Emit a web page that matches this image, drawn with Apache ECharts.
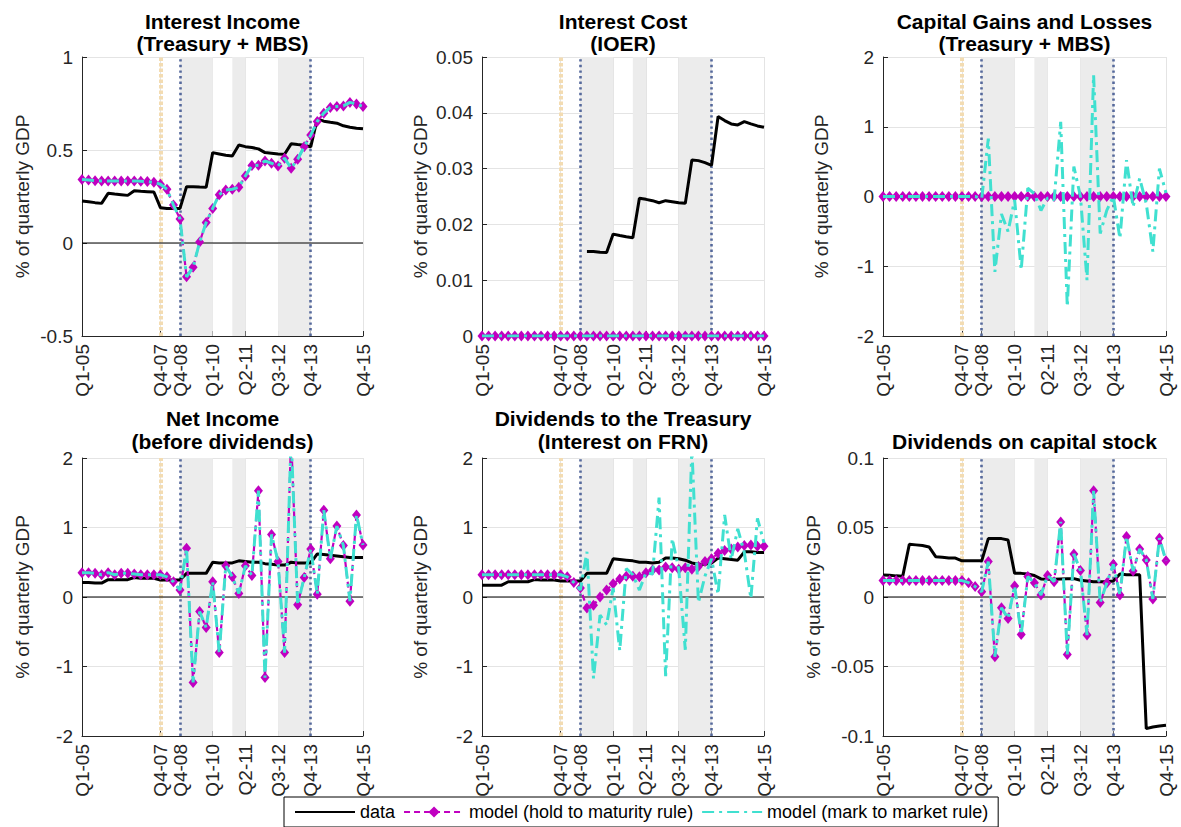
<!DOCTYPE html>
<html>
<head>
<meta charset="utf-8">
<script src="https://cdn.jsdelivr.net/npm/echarts@6/dist/echarts.min.js"></script>
<style>
  html, body { margin: 0; padding: 0; background: #fff; }
  #chart { width: 1181px; height: 827px; }
</style>
</head>
<body>
<div id="chart"></div>
<script>
// Quarter index: 0 = Q1-05 ... 43 = Q4-15
const tickPos = [0, 12, 15, 20, 25, 30, 35, 43];
const tickLabels = ['Q1-05', 'Q4-07', 'Q4-08', 'Q1-10', 'Q2-11', 'Q3-12', 'Q4-13', 'Q4-15'];

// Shaded purchase programmes and event markers (quarter index)
const qeBands = [[15, 20], [23, 25], [30, 35]];
const recessionStart = 12;
const qeMarks = [15, 35];

const seriesNames = ['data', 'model (hold to maturity rule)', 'model (mark to market rule)'];

// Interest Income (Treasury + MBS)
const p1Data = [0.226,0.222,0.217,0.213,0.267,0.263,0.260,0.256,0.281,0.278,0.276,0.274,0.190,0.186,0.186,0.186,0.303,0.303,0.301,0.300,0.486,0.479,0.472,0.468,0.527,0.518,0.513,0.506,0.486,0.483,0.479,0.477,0.533,0.529,0.526,0.517,0.667,0.655,0.649,0.644,0.630,0.622,0.617,0.614];
const p1Hold = [0.342,0.339,0.335,0.334,0.334,0.334,0.334,0.334,0.334,0.332,0.330,0.326,0.316,0.289,0.204,0.129,-0.182,-0.130,0.005,0.110,0.186,0.260,0.285,0.289,0.300,0.360,0.416,0.418,0.441,0.429,0.414,0.456,0.402,0.450,0.518,0.580,0.653,0.698,0.729,0.734,0.737,0.756,0.747,0.734];
const p1Mark = [0.342,0.339,0.335,0.334,0.334,0.334,0.334,0.334,0.334,0.332,0.330,0.326,0.316,0.289,0.204,0.129,-0.182,-0.130,0.005,0.110,0.186,0.260,0.285,0.289,0.300,0.360,0.416,0.418,0.441,0.429,0.414,0.456,0.402,0.450,0.518,0.580,0.653,0.698,0.729,0.734,0.737,0.756,0.747,0.734];

// Interest Cost (IOER)
const p2Data = [null,null,null,null,null,null,null,null,null,null,null,null,null,null,null,null,0.01515,0.01515,0.0150,0.01497,0.01826,0.0180,0.01778,0.0176,0.0247,0.02449,0.02425,0.02389,0.02425,0.02407,0.02389,0.02377,0.03155,0.03143,0.03107,0.03059,0.03933,0.03861,0.03801,0.03783,0.03843,0.03801,0.03765,0.03741];
const p2Hold = [0,0,0,0,0,0,0,0,0,0,0,0,0,0,0,0,0,0,0,0,0,0,0,0,0,0,0,0,0,0,0,0,0,0,0,0,0,0,0,0,0,0,0,0];
const p2Mark = [0,0,0,0,0,0,0,0,0,0,0,0,0,0,0,0,0,0,0,0,0,0,0,0,0,0,0,0,0,0,0,0,0,0,0,0,0,0,0,0,0,0,0,0];

// Capital Gains and Losses (Treasury + MBS)
const p3Data = [];
const p3Hold = [0,0,0,0,0,0,0,0,0,0,0,0,0,0,0,0,0,0,0,0,0,0,0,0,0,0,0,0,0,0,0,0,0,0,0,0,0,0,0,0,0,0,0,0];
const p3Mark = [0,0,0,0,0,0,0,0,0,0,0,0,0,0,0,-0.03,0.83,-1.08,-0.25,-0.50,-0.05,-1.05,0.12,0.04,-0.20,-0.02,-0.05,1.07,-1.58,0.43,0.00,-1.20,1.74,-0.53,-0.20,0.00,-0.60,0.52,-0.15,0.26,-0.10,-0.79,0.40,0.05];

// Net Income (before dividends)
const p4Data = [0.21,0.21,0.20,0.20,0.25,0.25,0.25,0.25,0.28,0.27,0.27,0.27,0.245,0.245,0.245,0.245,0.34,0.34,0.34,0.34,0.50,0.49,0.49,0.49,0.52,0.51,0.50,0.50,0.48,0.47,0.46,0.46,0.50,0.49,0.49,0.49,0.62,0.61,0.60,0.59,0.58,0.57,0.57,0.57];
const p4Hold = [0.35,0.35,0.34,0.32,0.35,0.32,0.34,0.34,0.33,0.32,0.32,0.32,0.32,0.29,0.22,0.10,0.70,-1.23,-0.21,-0.44,0.22,-0.80,0.45,0.29,0.05,0.45,0.31,1.53,-1.16,0.90,0.51,-0.80,2.30,-0.11,0.28,0.69,0.04,1.25,0.55,1.02,0.74,-0.06,1.18,0.75];
const p4Mark = [0.35,0.35,0.34,0.32,0.35,0.32,0.34,0.34,0.33,0.32,0.32,0.32,0.32,0.29,0.22,0.10,0.70,-1.23,-0.21,-0.44,0.22,-0.80,0.45,0.29,0.05,0.45,0.31,1.53,-1.16,0.90,0.51,-0.80,2.30,-0.11,0.28,0.69,0.04,1.25,0.55,1.02,0.74,-0.06,1.18,0.75];

// Dividends to the Treasury (Interest on FRN)
const p5Data = [0.17,0.17,0.17,0.17,0.22,0.22,0.22,0.22,0.25,0.245,0.245,0.245,0.23,0.23,0.23,0.23,0.34,0.34,0.34,0.34,0.55,0.54,0.53,0.52,0.50,0.50,0.49,0.50,0.56,0.56,0.55,0.53,0.49,0.47,0.47,0.49,0.56,0.55,0.54,0.53,0.65,0.65,0.64,0.64];
const p5Hold = [0.32,0.32,0.32,0.32,0.32,0.32,0.32,0.32,0.32,0.32,0.32,0.32,0.32,0.29,0.21,0.13,-0.16,-0.12,0.00,0.10,0.19,0.26,0.30,0.30,0.29,0.35,0.39,0.39,0.43,0.42,0.40,0.42,0.40,0.44,0.51,0.55,0.63,0.67,0.69,0.72,0.74,0.75,0.73,0.73];
const p5Mark = [0.32,0.32,0.32,0.32,0.32,0.32,0.32,0.32,0.32,0.32,0.32,0.32,0.32,0.29,0.21,0.10,0.65,-1.17,-0.26,-0.40,0.13,-0.77,0.41,0.32,0.10,0.35,0.33,1.43,-1.14,0.84,0.40,-0.76,2.14,-0.08,0.30,0.55,0.04,1.18,0.54,0.98,0.64,-0.02,1.13,0.78];

// Dividends on capital stock
const p6Data = [0.0159,0.0156,0.0152,0.0150,0.0380,0.0375,0.0370,0.0360,0.0290,0.0286,0.0280,0.0280,0.0260,0.0260,0.0260,0.0260,0.0420,0.0420,0.0420,0.0410,0.0170,0.0170,0.0165,0.0155,0.0130,0.0127,0.0127,0.0130,0.0132,0.0132,0.0120,0.0115,0.0110,0.0110,0.0110,0.0115,0.0166,0.0160,0.0160,0.0160,-0.0947,-0.0935,-0.0928,-0.0923];
const p6Hold = [0.0118,0.0118,0.0118,0.0118,0.0118,0.0118,0.0118,0.0118,0.0118,0.0118,0.0118,0.0118,0.0118,0.0103,0.0075,0.0038,0.0255,-0.0430,-0.0077,-0.0154,0.0080,-0.0270,0.0147,0.0103,0.0014,0.0154,0.0110,0.0540,-0.0413,0.0310,0.0190,-0.0274,0.0764,-0.0040,0.0100,0.0236,0.0014,0.0435,0.0187,0.0346,0.0267,-0.0014,0.0423,0.0260];
const p6Mark = [0.0118,0.0118,0.0118,0.0118,0.0118,0.0118,0.0118,0.0118,0.0118,0.0118,0.0118,0.0118,0.0118,0.0103,0.0075,0.0038,0.0255,-0.0430,-0.0077,-0.0154,0.0080,-0.0270,0.0147,0.0103,0.0014,0.0154,0.0110,0.0540,-0.0413,0.0310,0.0190,-0.0274,0.0764,-0.0040,0.0100,0.0236,0.0014,0.0435,0.0187,0.0346,0.0267,-0.0014,0.0423,0.0260];

const FONT = "'Liberation Sans', Arial, Helvetica, sans-serif";
const AXIS_COLOR = '#262626';
const GRID_COLOR = '#e4e4e4';
const C_DATA = '#000000';
const C_HOLD = '#c000c0';
const C_MARK = '#40e0d0';

const panels = [
  { title: ['Interest Income', '(Treasury + MBS)'], yMin: -0.5, yMax: 1, yStep: 0.5, data: p1Data, hold: p1Hold, mark: p1Mark, nameGap: 50 },
  { title: ['Interest Cost', '(IOER)'], yMin: 0, yMax: 0.05, yStep: 0.01, data: p2Data, hold: p2Hold, mark: p2Mark, nameGap: 52 },
  { title: ['Capital Gains and Losses', '(Treasury + MBS)'], yMin: -2, yMax: 2, yStep: 1, data: p3Data, hold: p3Hold, mark: p3Mark, nameGap: 52 },
  { title: ['Net Income', '(before dividends)'], yMin: -2, yMax: 2, yStep: 1, data: p4Data, hold: p4Hold, mark: p4Mark, nameGap: 50 },
  { title: ['Dividends to the Treasury', '(Interest on FRN)'], yMin: -2, yMax: 2, yStep: 1, data: p5Data, hold: p5Hold, mark: p5Mark, nameGap: 52 },
  { title: ['Dividends on capital stock'], yMin: -0.1, yMax: 0.1, yStep: 0.05, data: p6Data, hold: p6Hold, mark: p6Mark, nameGap: 60 }
];

const colLeft = [82, 482, 883];
const colWidth = [281, 282, 283];
const rowTop = [57, 458];
const rowHeight = [279, 278];
const titleLineY = [[21, 43], [418, 441]];

const toPoints = arr => arr.map((v, i) => [i, v]);

const grids = [], xAxes = [], yAxes = [], series = [], graphics = [];

panels.forEach((p, k) => {
  const col = k % 3, row = Math.floor(k / 3);
  grids.push({ left: colLeft[col], top: rowTop[row], width: colWidth[col], height: rowHeight[row], containLabel: false });

  xAxes.push({
    gridIndex: k, type: 'value', min: 0, max: 43,
    axisLine: { show: true, onZero: false, lineStyle: { color: AXIS_COLOR, width: 1 } },
    axisTick: { show: true, inside: true, length: 5, customValues: tickPos, lineStyle: { color: AXIS_COLOR } },
    axisLabel: {
      show: true, customValues: tickPos, rotate: 90, margin: 8,
      fontFamily: FONT, fontSize: 19, color: AXIS_COLOR,
      formatter: v => tickLabels[tickPos.indexOf(Math.round(v))]
    },
    splitLine: { show: true, lineStyle: { color: GRID_COLOR, width: 1 } }
  });

  yAxes.push({
    gridIndex: k, type: 'value', min: p.yMin, max: p.yMax, interval: p.yStep,
    name: '% of quarterly GDP', nameLocation: 'middle', nameGap: p.nameGap,
    nameTextStyle: { fontFamily: FONT, fontSize: 19, color: AXIS_COLOR },
    axisLine: { show: true, onZero: false, lineStyle: { color: AXIS_COLOR, width: 1 } },
    axisTick: { show: true, inside: true, length: 5, lineStyle: { color: AXIS_COLOR } },
    axisLabel: { fontFamily: FONT, fontSize: 19, color: AXIS_COLOR, margin: 9 },
    splitLine: { show: true, lineStyle: { color: GRID_COLOR, width: 1 } }
  });

  // shaded programme periods and vertical event lines
  series.push({
    type: 'line', xAxisIndex: k, yAxisIndex: k, data: [], silent: true, z: 1,
    markArea: {
      silent: true, itemStyle: { color: '#ececec' },
      data: qeBands.map(b => [{ xAxis: b[0] }, { xAxis: b[1] }])
    },
    markLine: {
      silent: true, symbol: ['none', 'none'], label: { show: false }, animation: false,
      data: [{ xAxis: recessionStart, lineStyle: { color: '#f3dcb2', width: 4, type: [3.5, 2] } }]
        .concat(qeMarks.map(q => ({ xAxis: q, lineStyle: { color: '#56699c', width: 2.6, type: [2.4, 3.2] } })))
    }
  });

  // zero reference line
  series.push({
    type: 'line', xAxisIndex: k, yAxisIndex: k, data: [[0, 0], [43, 0]], silent: true, z: 6,
    symbol: 'none', lineStyle: { color: '#000', width: 1 }
  });

  series.push({
    name: seriesNames[0], type: 'line', xAxisIndex: k, yAxisIndex: k, z: 10,
    data: toPoints(p.data), symbol: 'none', connectNulls: false,
    lineStyle: { color: C_DATA, width: 3 }, itemStyle: { color: C_DATA }
  });
  series.push({
    name: seriesNames[1], type: 'line', xAxisIndex: k, yAxisIndex: k, z: 11,
    data: toPoints(p.hold), symbol: 'diamond', symbolSize: [9, 11], showSymbol: true,
    lineStyle: { color: C_HOLD, width: 2.2, type: [6, 4] }, itemStyle: { color: C_HOLD }
  });
  series.push({
    name: seriesNames[2], type: 'line', xAxisIndex: k, yAxisIndex: k, z: 12,
    data: toPoints(p.mark), symbol: 'none',
    lineStyle: { color: C_MARK, width: 3, type: [12, 5, 3, 5] }, itemStyle: { color: C_MARK }
  });

  const cx = colLeft[col] + colWidth[col] / 2;
  const ys = p.title.length === 2 ? titleLineY[row] : [titleLineY[row][1]];
  p.title.forEach((t, j) => {
    graphics.push({
      type: 'text', x: cx, y: ys[j], silent: true,
      style: {
        text: t, fill: '#000', font: 'bold 21px ' + FONT,
        align: 'center', verticalAlign: 'middle', textAlign: 'center', textVerticalAlign: 'middle'
      }
    });
  });
});

const chart = echarts.init(document.getElementById('chart'), null, { renderer: 'svg' });
chart.setOption({
  animation: false,
  backgroundColor: '#fff',
  grid: grids,
  xAxis: xAxes,
  yAxis: yAxes,
  series: series,
  graphic: graphics,
  legend: {
    data: [
      { name: seriesNames[0], itemStyle: { opacity: 0 } },
      { name: seriesNames[1] },
      { name: seriesNames[2], itemStyle: { opacity: 0 } }
    ],
    left: 284, top: 797, orient: 'horizontal',
    itemWidth: 60, itemHeight: 14, itemGap: 8, padding: [6, 10],
    borderColor: '#000', borderWidth: 1, backgroundColor: '#fff', borderRadius: 0,
    selectedMode: false,
    textStyle: { fontFamily: FONT, fontSize: 18, color: '#000' }
  }
});
</script>
</body>
</html>
